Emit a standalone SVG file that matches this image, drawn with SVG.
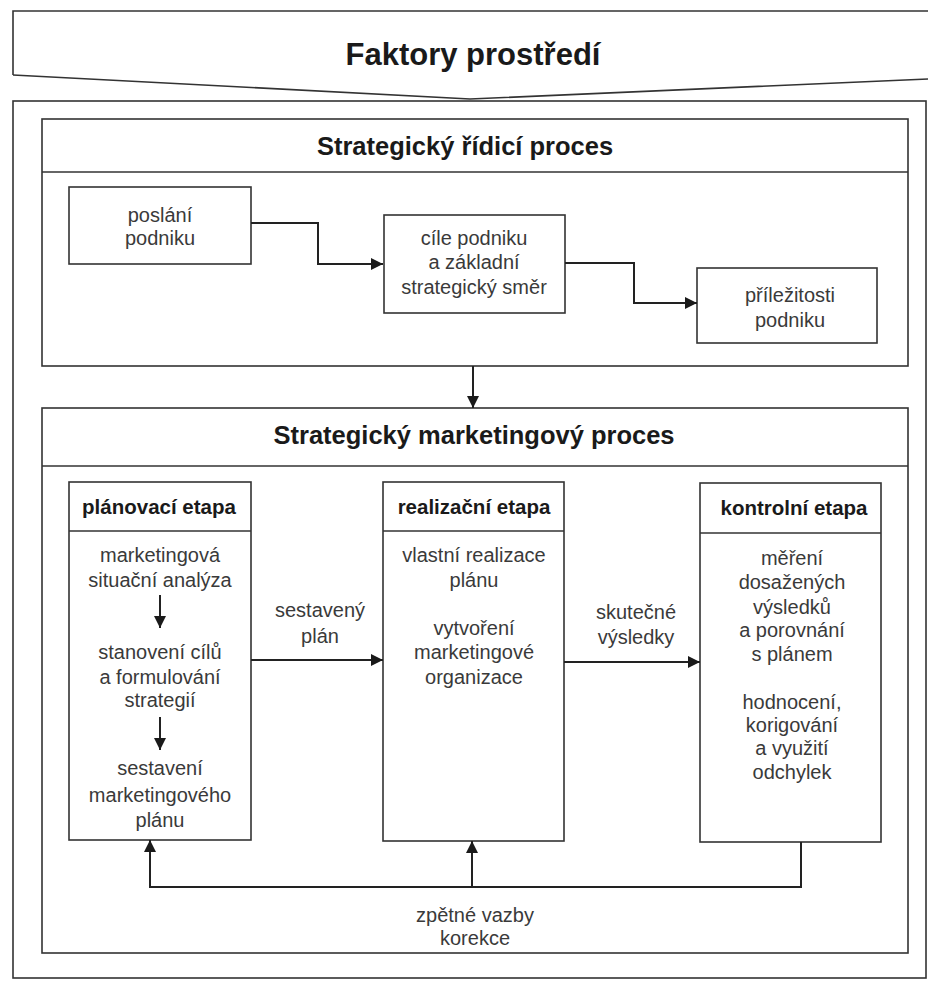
<svg xmlns="http://www.w3.org/2000/svg" width="928" height="981" viewBox="0 0 928 981">
<defs>
<style>
.frame{fill:none;stroke:#333;stroke-width:1.6}
.box{fill:#fff;stroke:#333;stroke-width:1.6}
.sep{fill:none;stroke:#333;stroke-width:1.6}
.conn{fill:none;stroke:#222;stroke-width:2}
.t{font-family:"Liberation Sans",Arial,sans-serif;font-size:20px;fill:#3a3a3a;text-anchor:middle}
.h1{font-family:"Liberation Sans",Arial,sans-serif;font-size:31px;font-weight:bold;fill:#1a1a1a;text-anchor:middle}
.h2{font-family:"Liberation Sans",Arial,sans-serif;font-size:25.5px;font-weight:bold;fill:#1a1a1a;text-anchor:middle}
.h3{font-family:"Liberation Sans",Arial,sans-serif;font-size:20.5px;font-weight:bold;fill:#1a1a1a;text-anchor:middle}
</style>
<marker id="arr" viewBox="0 0 10 10" refX="10" refY="5" markerWidth="14" markerHeight="12" markerUnits="userSpaceOnUse" orient="auto">
<path d="M0,0 L10,5 L0,10 z" fill="#1a1a1a"/>
</marker>
</defs>
<rect width="928" height="981" fill="#fff"/>

<g id="banner">
<path class="frame" d="M13,75 V11 H928"/>
<path class="frame" d="M13,75 L470,99 L928,79"/>
<text class="h1" x="473" y="65">Faktory prostředí</text>
</g>

<g id="outer">
<rect class="frame" x="13" y="101" width="913" height="877"/>
</g>

<g id="strategic">
<rect class="box" x="42" y="119" width="866" height="247"/>
<line class="sep" x1="42" y1="172" x2="908" y2="172"/>
<text class="h2" x="465" y="155">Strategický řídicí proces</text>
</g>

<g id="poslani">
<rect class="box" x="69" y="187" width="182" height="77"/>
<text class="t" x="160" y="222">poslání</text>
<text class="t" x="160" y="245">podniku</text>
</g>

<g id="cile">
<rect class="box" x="384" y="215" width="181" height="98"/>
<text class="t" x="474" y="245">cíle podniku</text>
<text class="t" x="474" y="269">a základní</text>
<text class="t" x="474" y="294">strategický směr</text>
</g>

<g id="prilezitosti">
<rect class="box" x="697" y="268" width="180" height="75"/>
<text class="t" x="790" y="302">příležitosti</text>
<text class="t" x="790" y="327">podniku</text>
</g>

<g id="marketing">
<rect class="box" x="42" y="408" width="866" height="545"/>
<line class="sep" x1="42" y1="466" x2="908" y2="466"/>
<text class="h2" x="474" y="444">Strategický marketingový proces</text>
</g>

<g id="planovaci">
<rect class="box" x="69" y="482" width="182" height="358"/>
<line class="sep" x1="69" y1="531" x2="251" y2="531"/>
<text class="h3" x="159" y="514">plánovací etapa</text>
<text class="t" x="160" y="562">marketingová</text>
<text class="t" x="160" y="587">situační analýza</text>
<text class="t" x="160" y="659">stanovení cílů</text>
<text class="t" x="160" y="684">a formulování</text>
<text class="t" x="160" y="707">strategií</text>
<text class="t" x="160" y="775">sestavení</text>
<text class="t" x="160" y="802">marketingového</text>
<text class="t" x="160" y="827">plánu</text>
</g>

<g id="realizacni">
<rect class="box" x="383" y="482" width="181" height="359"/>
<line class="sep" x1="383" y1="531" x2="564" y2="531"/>
<text class="h3" x="474" y="514">realizační etapa</text>
<text class="t" x="474" y="562">vlastní realizace</text>
<text class="t" x="474" y="587">plánu</text>
<text class="t" x="474" y="635">vytvoření</text>
<text class="t" x="474" y="659">marketingové</text>
<text class="t" x="474" y="684">organizace</text>
</g>

<g id="kontrolni">
<rect class="box" x="700" y="483" width="181" height="359"/>
<line class="sep" x1="700" y1="533" x2="881" y2="533"/>
<text class="h3" x="794" y="515">kontrolní etapa</text>
<text class="t" x="792" y="565">měření</text>
<text class="t" x="792" y="589">dosažených</text>
<text class="t" x="792" y="614">výsledků</text>
<text class="t" x="792" y="637">a porovnání</text>
<text class="t" x="792" y="661">s plánem</text>
<text class="t" x="792" y="709">hodnocení,</text>
<text class="t" x="792" y="732">korigování</text>
<text class="t" x="792" y="755">a využití</text>
<text class="t" x="792" y="779">odchylek</text>
</g>

<g id="connectors">
<path class="conn" d="M251,223 H318 V264 H383" marker-end="url(#arr)"/>
<path class="conn" d="M565,263 H634 V303 H697" marker-end="url(#arr)"/>
<path class="conn" d="M473,366 V408" marker-end="url(#arr)"/>
<path class="conn" d="M160,595 V628" marker-end="url(#arr)"/>
<path class="conn" d="M160,717 V750" marker-end="url(#arr)"/>
<path class="conn" d="M251,660 H383" marker-end="url(#arr)"/>
<path class="conn" d="M564,662 H700" marker-end="url(#arr)"/>
<path class="conn" d="M801,842 V887 H150 V840" marker-end="url(#arr)"/>
<path class="conn" d="M472,887 V841" marker-end="url(#arr)"/>
<text class="t" x="320" y="617">sestavený</text>
<text class="t" x="320" y="643">plán</text>
<text class="t" x="636" y="619">skutečné</text>
<text class="t" x="636" y="644">výsledky</text>
<text class="t" x="475" y="922">zpětné vazby</text>
<text class="t" x="475" y="945">korekce</text>
</g>
</svg>
